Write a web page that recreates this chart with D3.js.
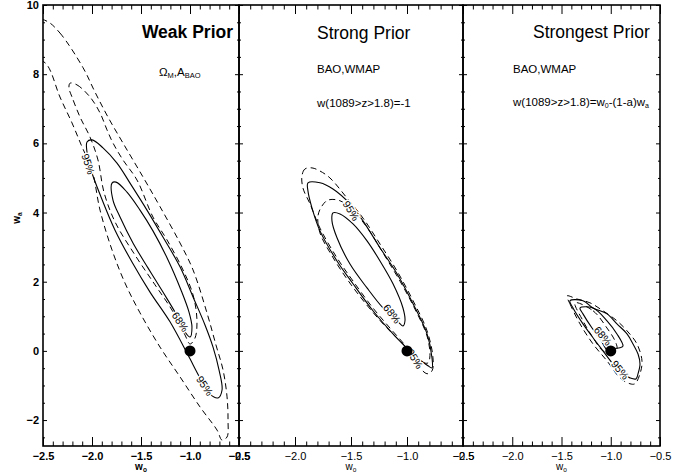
<!DOCTYPE html>
<html><head><meta charset="utf-8">
<script src="https://cdn.jsdelivr.net/npm/d3@7"></script>
<style>
body{margin:0;background:#fff}
svg{display:block}
text{font-family:"Liberation Sans",Arial,Helvetica,sans-serif;fill:#000}
</style>
</head><body>
<svg id="c" width="689" height="476"></svg>
<script>
// ---------------- data ----------------
const panelTitles = ["Weak Prior", "Strong Prior", "Strongest Prior"];
const xTickValues = [-2.5, -2.0, -1.5, -1.0, -0.5];
const yTickValues = [-2, 0, 2, 4, 6, 8, 10];
const fiducial = [-1.0, 0.0];

// Weak prior contours (w0, wa)
const weakSolid95 = [[-2.051,6.04],[-2.0,6.10],[-1.888,5.87],[-1.745,5.43],[-1.612,4.85],[-1.439,4.07],[-1.276,3.29],[-1.102,2.43],[-0.969,1.56],[-0.847,0.75],[-0.765,0.11],[-0.704,-0.55],[-0.673,-1.13],[-0.714,-1.36],[-0.796,-1.25],[-0.898,-0.78],[-1.020,-0.12],[-1.204,0.84],[-1.408,1.70],[-1.592,2.57],[-1.765,3.49],[-1.908,4.45],[-2.010,5.23],[-2.051,5.75]];
const weakSolid68 = [[-1.796,4.85],[-1.755,4.88],[-1.643,4.59],[-1.510,4.07],[-1.378,3.47],[-1.224,2.63],[-1.092,1.76],[-1.010,1.12],[-0.980,0.69],[-1.0,0.40],[-1.051,0.55],[-1.143,1.07],[-1.276,1.70],[-1.429,2.40],[-1.582,3.12],[-1.714,3.87],[-1.786,4.36]];
const weakDashed95 = [[-2.459,9.53],[-2.327,9.19],[-2.092,8.19],[-1.969,7.48],[-1.837,6.76],[-1.684,6.01],[-1.480,5.03],[-1.306,4.17],[-1.102,3.12],[-0.969,2.34],[-0.827,1.10],[-0.735,0.17],[-0.663,-0.55],[-0.622,-1.33],[-0.612,-2.0],[-0.622,-2.49],[-0.673,-2.58],[-0.724,-2.29],[-0.898,-1.62],[-1.102,-0.75],[-1.306,0.11],[-1.510,1.10],[-1.663,1.96],[-1.796,2.92],[-1.918,4.07],[-2.0,5.23],[-2.102,5.90],[-2.204,6.59],[-2.327,7.34],[-2.459,8.27],[-2.60,8.60],[-2.60,9.60]];
const weakDashed68 = [[-2.224,7.74],[-2.153,7.69],[-2.020,7.34],[-1.918,6.88],[-1.847,6.39],[-1.786,6.01],[-1.684,5.52],[-1.541,4.94],[-1.378,3.87],[-1.235,3.21],[-1.071,2.34],[-0.969,1.62],[-0.929,0.89],[-0.949,0.37],[-1.0,0.20],[-1.051,0.46],[-1.184,1.18],[-1.357,1.91],[-1.561,2.77],[-1.765,3.73],[-1.878,4.59],[-1.939,5.52],[-2.020,6.18],[-2.122,6.76],[-2.204,7.34],[-2.235,7.60]];

// Strong prior contours
const strongSolid95 = [[-1.884,4.86],[-1.777,4.86],[-1.661,4.68],[-1.509,4.25],[-1.393,3.76],[-1.241,2.98],[-1.089,2.23],[-0.946,1.36],[-0.821,0.49],[-0.777,-0.20],[-0.777,-0.49],[-0.813,-0.43],[-0.946,-0.09],[-1.125,0.49],[-1.304,1.16],[-1.482,1.94],[-1.625,2.60],[-1.777,3.47],[-1.848,4.13],[-1.884,4.62]];
const strongSolid68 = [[-1.661,3.99],[-1.598,3.96],[-1.482,3.67],[-1.357,3.18],[-1.241,2.60],[-1.125,1.94],[-1.036,1.24],[-1.018,0.87],[-1.036,0.72],[-1.089,0.87],[-1.214,1.24],[-1.357,1.82],[-1.509,2.51],[-1.625,3.27],[-1.670,3.76]];
const strongDashed95 = [[-1.848,5.29],[-1.911,5.26],[-1.938,5.06],[-1.929,4.71],[-1.866,4.25],[-1.777,3.55],[-1.625,2.69],[-1.482,2.02],[-1.304,1.24],[-1.152,0.66],[-1.0,0.09],[-0.911,-0.38],[-0.821,-0.66],[-0.777,-0.58],[-0.768,-0.20],[-0.821,0.58],[-0.946,1.45],[-1.089,2.31],[-1.241,3.09],[-1.393,3.84],[-1.536,4.42],[-1.688,5.00],[-1.777,5.20]];
const strongDashed68 = [[-1.705,4.36],[-1.598,4.34],[-1.464,3.99],[-1.348,3.53],[-1.214,2.83],[-1.063,2.02],[-0.929,1.21],[-0.821,0.43],[-0.795,-0.14],[-0.813,-0.35],[-0.884,-0.29],[-1.018,0.14],[-1.196,0.72],[-1.375,1.39],[-1.536,2.08],[-1.670,2.75],[-1.777,3.41],[-1.795,3.90],[-1.759,4.19]];

// Strongest prior contours
const strongestSolid95 = [[-1.414,1.45],[-1.282,1.45],[-1.180,1.24],[-1.038,1.07],[-0.937,0.78],[-0.835,0.49],[-0.774,0.20],[-0.723,-0.09],[-0.703,-0.38],[-0.723,-0.66],[-0.744,-0.81],[-0.805,-0.78],[-0.876,-0.66],[-0.977,-0.38],[-1.079,0.0],[-1.180,0.38],[-1.282,0.78],[-1.383,1.24]];
const strongestSolid68 = [[-1.312,1.24],[-1.180,1.24],[-1.038,0.87],[-0.937,0.49],[-0.876,0.14],[-0.906,0.09],[-0.977,0.06],[-1.028,0.0],[-1.109,0.35],[-1.190,0.66],[-1.282,1.07]];
const strongestDashed95 = [[-1.444,1.59],[-1.414,1.36],[-1.312,0.78],[-1.180,0.20],[-1.038,-0.29],[-0.906,-0.78],[-0.805,-0.95],[-0.754,-0.95],[-0.703,-0.66],[-0.683,-0.29],[-0.734,0.20],[-0.835,0.58],[-0.937,0.87],[-1.079,1.16],[-1.211,1.39],[-1.343,1.50]];
const strongestDashed68 = [[-1.363,1.39],[-1.180,1.16],[-1.038,0.66],[-0.957,0.29],[-0.937,0.06],[-0.987,-0.06],[-1.079,0.0],[-1.180,0.38],[-1.282,0.87]];

// contour labels: [panel, w0, wa, text, angle]
const contourLabels = [
  [0, -2.04, 5.40, "95%", 72],
  [0, -1.10, 0.84, "68%", 55],
  [0, -0.85, -1.01, "95%", 55],
  [1, -1.50, 4.05, "95%", 58],
  [1, -1.134, 1.07, "68%", 52],
  [1, -0.93, -0.23, "95%", 58],
  [2, -1.08, 0.43, "68%", 50],
  [2, -0.906, -0.55, "95%", 50]
];

// ---------------- layout ----------------
const svg = d3.select("#c");
const panelX = [[43,239],[239,463],[463,660]];
const yRange = [446, 5];
const yScale = d3.scaleLinear().domain([-2.75, 10]).range(yRange);

const contourSets = [
  {solid:[weakSolid95, weakSolid68], dashed:[weakDashed95, weakDashed68]},
  {solid:[strongSolid95, strongSolid68], dashed:[strongDashed95, strongDashed68]},
  {solid:[strongestSolid95, strongestSolid68], dashed:[strongestDashed95, strongestDashed68]}
];

const xMinor = d3.range(-25, -4, 1).map(v => v/10).filter(v => Math.abs(v*2 - Math.round(v*2)) > 1e-6);
const yMinor = d3.range(-5, 21, 1).map(v => v/2).filter(v => v >= -2.75 && v % 2 !== 0);

panelX.forEach((rng, i) => {
  const x = d3.scaleLinear().domain([-2.5, -0.5]).range(rng);
  const g = svg.append("g");
  const bold = i === 0;
  const clipId = "clip" + i;
  svg.append("clipPath").attr("id", clipId).append("rect")
    .attr("x", rng[0]).attr("y", yRange[1]).attr("width", rng[1]-rng[0]).attr("height", yRange[0]-yRange[1]);

  const cg = g.append("g").attr("clip-path", `url(#${clipId})`);
  const line = d3.line().x(d => x(d[0])).y(d => yScale(d[1])).curve(d3.curveCatmullRomClosed.alpha(0.5));
  contourSets[i].dashed.forEach(c => {
    cg.append("path").attr("d", line(c)).attr("fill", "none").attr("stroke", "#000")
      .attr("stroke-width", 1).attr("stroke-dasharray", "6,4");
  });
  contourSets[i].solid.forEach(c => {
    cg.append("path").attr("d", line(c)).attr("fill", "none").attr("stroke", "#000").attr("stroke-width", 1.1);
  });
  contourLabels.filter(l => l[0] === i).forEach(l => {
    cg.append("text").attr("transform", `translate(${x(l[1])},${yScale(l[2])}) rotate(${l[4]})`)
      .attr("text-anchor", "middle").attr("dy", "0.35em").attr("font-size", 10.5)
      .attr("stroke", "#fff").attr("stroke-width", 3).attr("paint-order", "stroke").text(l[3]);
  });
  cg.append("circle").attr("cx", x(fiducial[0])).attr("cy", yScale(fiducial[1])).attr("r", 5.5).attr("fill", "#000");

  // axes: major and minor ticks, inward
  const fw = bold ? "bold" : "normal";
  const bottom = g.append("g").attr("transform", `translate(0,${yRange[0]})`)
    .call(d3.axisBottom(x).tickValues(xTickValues).tickSize(-9).tickPadding(6).tickFormat(d3.format(".1f")));
  bottom.selectAll("text").attr("font-size", 11).attr("font-weight", fw).attr("font-family", '"Liberation Sans",Arial,sans-serif');
  g.append("g").attr("transform", `translate(0,${yRange[0]})`)
    .call(d3.axisBottom(x).tickValues(xMinor).tickSize(-4.5).tickFormat(""));
  g.append("g").attr("transform", `translate(0,${yRange[1]})`)
    .call(d3.axisTop(x).tickValues(xTickValues).tickSize(-9).tickFormat(""));
  g.append("g").attr("transform", `translate(0,${yRange[1]})`)
    .call(d3.axisTop(x).tickValues(xMinor).tickSize(-4.5).tickFormat(""));
  const left = g.append("g").attr("transform", `translate(${rng[0]},0)`)
    .call(d3.axisLeft(yScale).tickValues(yTickValues).tickSize(-4).tickPadding(4).tickFormat(i === 0 ? d3.format("d") : ""));
  left.selectAll("text").attr("font-size", 11).attr("font-weight", "bold").attr("font-family", '"Liberation Sans",Arial,sans-serif');
  g.append("g").attr("transform", `translate(${rng[0]},0)`)
    .call(d3.axisLeft(yScale).tickValues(yMinor).tickSize(-2).tickFormat(""));
  g.append("g").attr("transform", `translate(${rng[1]},0)`)
    .call(d3.axisRight(yScale).tickValues(yTickValues).tickSize(-4).tickFormat(""));
  g.append("g").attr("transform", `translate(${rng[1]},0)`)
    .call(d3.axisRight(yScale).tickValues(yMinor).tickSize(-2).tickFormat(""));
  g.selectAll(".domain").remove();
  g.selectAll(".tick line").attr("stroke", "#000").attr("stroke-width", 1);

  g.append("rect").attr("x", rng[0]).attr("y", yRange[1]).attr("width", rng[1]-rng[0]).attr("height", yRange[0]-yRange[1])
    .attr("fill", "none").attr("stroke", "#000").attr("stroke-width", 1.6);

  // x axis title w0
  const xt = g.append("text").attr("x", (rng[0]+rng[1])/2).attr("y", 470).attr("text-anchor", "middle")
    .attr("font-size", 10).attr("font-weight", fw);
  xt.append("tspan").text("w");
  xt.append("tspan").attr("font-size", 6.5).attr("dy", 2).text("o");
});

// y axis title
const yt = svg.append("text").attr("transform", "translate(20,218) rotate(-90)").attr("text-anchor", "middle")
  .attr("font-size", 10).attr("font-weight", "bold");
yt.append("tspan").text("w");
yt.append("tspan").attr("font-size", 6.5).attr("dy", 2).text("a");

// titles
svg.append("text").attr("x", 233).attr("y", 38).attr("text-anchor", "end").attr("font-size", 17.5).attr("font-weight", "bold").text(panelTitles[0]);
svg.append("text").attr("x", 317).attr("y", 39).attr("font-size", 17.5).text(panelTitles[1]);
svg.append("text").attr("x", 533).attr("y", 38).attr("font-size", 17.5).text(panelTitles[2]);

// annotations
const om = svg.append("text").attr("x", 159).attr("y", 76).attr("font-size", 11.5);
om.append("tspan").text("Ω");
om.append("tspan").attr("font-size", 7.5).attr("dy", 2).text("M");
om.append("tspan").attr("dy", -2).text(",A");
om.append("tspan").attr("font-size", 7.5).attr("dy", 2).text("BAO");

svg.append("text").attr("x", 317).attr("y", 73).attr("font-size", 11.5).text("BAO,WMAP");
svg.append("text").attr("x", 317).attr("y", 107).attr("font-size", 11.5).text("w(1089>z>1.8)=-1");
svg.append("text").attr("x", 513).attr("y", 73).attr("font-size", 11.5).text("BAO,WMAP");
const f3 = svg.append("text").attr("x", 513).attr("y", 106).attr("font-size", 11.5);
f3.append("tspan").text("w(1089>z>1.8)=w");
f3.append("tspan").attr("font-size", 7).attr("dy", 2).text("0");
f3.append("tspan").attr("dy", -2).text("-(1-a)w");
f3.append("tspan").attr("font-size", 7).attr("dy", 2).text("a");
</script>
</body></html>
